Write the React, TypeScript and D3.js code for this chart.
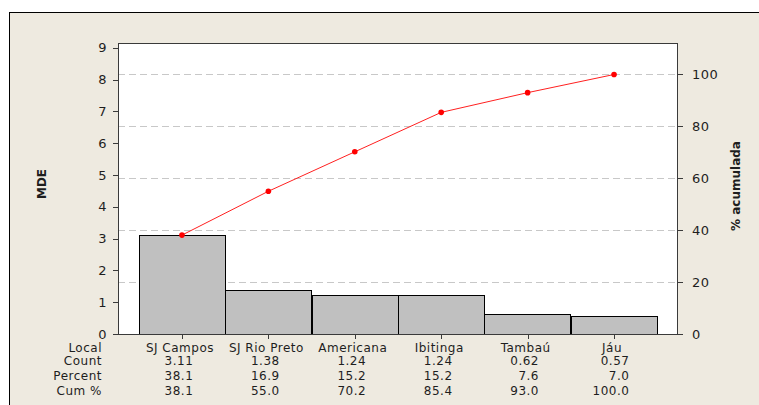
import React from "react";
import * as d3 from "d3";

const categories = ["SJ Campos", "SJ Rio Preto", "Americana", "Ibitinga", "Tambaú", "Jáu"];
const counts = [3.11, 1.38, 1.24, 1.24, 0.62, 0.57];
const percents = ["38.1", "16.9", "15.2", "15.2", "7.6", "7.0"];
const cumPercents = [38.1, 55.0, 70.2, 85.4, 93.0, 100.0];
const cumLabels = ["38.1", "55.0", "70.2", "85.4", "93.0", "100.0"];
const countLabels = ["3.11", "1.38", "1.24", "1.24", "0.62", "0.57"];
const leftTicks = [0, 1, 2, 3, 4, 5, 6, 7, 8, 9];
const rightTicks = [0, 20, 40, 60, 80, 100];
const rowLabels = ["Local", "Count", "Percent", "Cum %"];

const W = 759;
const H = 405;
const L = 118, R = 678, T = 43, B = 334;
const FONT = "'DejaVu Sans', Verdana, sans-serif";
const TXT = "#1e1e1e";

export default function App() {
  const total = d3.sum(counts);
  const yMax = 9.15;
  const x = d3.scaleBand<string>().domain(categories).range([L, R]).paddingInner(0).paddingOuter(0.24);
  const y = d3.scaleLinear().domain([0, yMax]).range([B, T]);
  const yR = d3.scaleLinear().domain([0, (yMax / total) * 100]).range([B, T]);
  const cx = (c: string) => (x(c) as number) + x.bandwidth() / 2;
  const line = d3
    .line<number>()
    .x((_, i) => cx(categories[i]))
    .y((d) => yR(d));

  const estW = (s: string) =>
    s.split("").reduce((a, ch) => a + (ch === "." ? 4.3 : 8.13), 0);

  const rowsY = [352, 364.5, 379.5, 395];
  const numRows = [countLabels, percents, cumLabels];

  return (
    <svg
      width={W}
      height={H}
      style={{ position: "absolute", left: 0, top: 0, background: "#fff" }}
      fontFamily={FONT}
    >
      <rect x={9.5} y={12.5} width={770} height={420} fill="#EEEAE0" stroke="#000" strokeWidth={1} />
      <rect x={L} y={T} width={R - L} height={B - T} fill="#fff" />
      {/* gridlines */}
      {rightTicks
        .filter((t) => t > 0)
        .map((t) => (
          <line
            key={"g" + t}
            x1={L}
            x2={R}
            y1={Math.round(yR(t)) + 0.5}
            y2={Math.round(yR(t)) + 0.5}
            stroke="#c8c8c8"
            strokeDasharray="7,4"
          />
        ))}
      {/* bars */}
      {categories.map((c, i) => (
        <rect
          key={c}
          x={Math.round(x(c) as number) + 0.5}
          y={Math.round(y(counts[i])) + 0.5}
          width={Math.round(x.bandwidth())}
          height={Math.round(B - y(counts[i]))}
          fill="#C0C0C0"
          stroke="#000"
          strokeWidth={1}
        />
      ))}
      {/* plot border */}
      <rect x={L + 0.5} y={T + 0.5} width={R - L - 1} height={B - T} fill="none" stroke="#3a3a3a" strokeWidth={1} />
      {/* cumulative line */}
      <path d={line(cumPercents) || ""} fill="none" stroke="#ff2020" strokeWidth={1} />
      {cumPercents.map((p, i) => (
        <circle key={"p" + i} cx={cx(categories[i])} cy={yR(p)} r={2.8} fill="#ff0000" />
      ))}
      {/* left axis */}
      {leftTicks.map((t) => (
        <g key={"l" + t}>
          <line x1={L - 5} x2={L} y1={Math.round(y(t)) + 0.5} y2={Math.round(y(t)) + 0.5} stroke="#3a3a3a" />
          <text x={L - 11} y={y(t)} dy="0.36em" textAnchor="end" fontSize={13} letterSpacing={0.5} fill={TXT}>
            {t}
          </text>
        </g>
      ))}
      {/* right axis */}
      {rightTicks.map((t) => (
        <g key={"r" + t}>
          <line x1={R} x2={R + 5} y1={Math.round(yR(t)) + 0.5} y2={Math.round(yR(t)) + 0.5} stroke="#3a3a3a" />
          <text x={R + 14} y={yR(t)} dy="0.36em" textAnchor="start" fontSize={13} letterSpacing={0.5} fill={TXT}>
            {t}
          </text>
        </g>
      ))}
      {/* x ticks */}
      {categories.map((c) => (
        <line key={"xt" + c} x1={Math.round(cx(c)) + 0.5} x2={Math.round(cx(c)) + 0.5} y1={B} y2={B + 5} stroke="#3a3a3a" />
      ))}
      {/* axis titles */}
      <text
        transform={`translate(46,184) rotate(-90)`}
        textAnchor="middle"
        fontSize={12}
        fontWeight="bold"
        fill={TXT}
      >
        MDE
      </text>
      <text
        transform={`translate(740,186) rotate(-90)`}
        textAnchor="middle"
        fontSize={12}
        fontWeight="bold"
        fill={TXT}
      >
        % acumulada
      </text>
      {/* table */}
      {rowLabels.map((r, i) => (
        <text key={r} x={102} y={rowsY[i]} textAnchor="end" fontSize={12} letterSpacing={0.5} fill={TXT}>
          {r}
        </text>
      ))}
      {categories.map((c, j) => {
        const center = cx(c) - 2;
        const maxW = Math.max(...numRows.map((row) => estW(row[j])));
        const right = center + maxW / 2 - 1;
        return (
          <g key={"col" + c}>
            <text x={center} y={rowsY[0]} textAnchor="middle" fontSize={12} letterSpacing={0.5} fill={TXT}>
              {c}
            </text>
            {numRows.map((row, k) => (
              <text key={k} x={right} y={rowsY[k + 1]} textAnchor="end" fontSize={12} letterSpacing={0.5} fill={TXT}>
                {row[j]}
              </text>
            ))}
          </g>
        );
      })}
    </svg>
  );
}
